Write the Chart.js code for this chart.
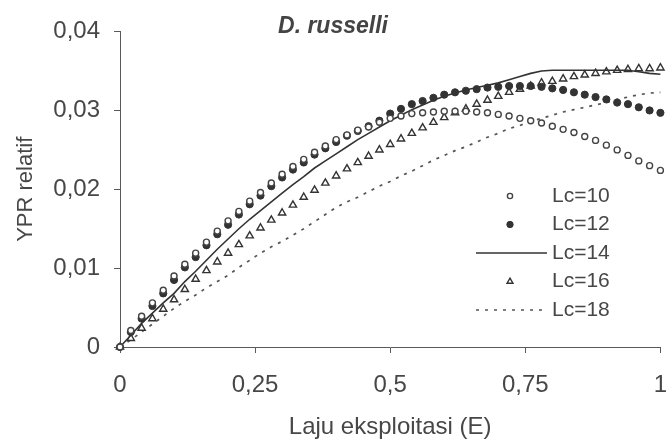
<!DOCTYPE html>
<html>
<head>
<meta charset="utf-8">
<script src="https://cdn.jsdelivr.net/npm/chart.js@4.4.1/dist/chart.umd.min.js"></script>
<style>
html,body{margin:0;padding:0;background:#ffffff;}
#wrap{width:666px;height:439px;position:relative;}
</style>
</head>
<body>
<div id="wrap"><canvas id="c" width="666" height="439"></canvas></div>
<script>
// ---- data ----
const E = [0, 0.02, 0.04, 0.06, 0.08, 0.10, 0.12, 0.14, 0.16, 0.18,
           0.20, 0.22, 0.24, 0.26, 0.28, 0.30, 0.32, 0.34, 0.36, 0.38,
           0.40, 0.42, 0.44, 0.46, 0.48, 0.50, 0.52, 0.54, 0.56, 0.58,
           0.60, 0.62, 0.64, 0.66, 0.68, 0.70, 0.72, 0.74, 0.76, 0.78,
           0.80, 0.82, 0.84, 0.86, 0.88, 0.90, 0.92, 0.94, 0.96, 0.98, 1.00];

const lc10 = [0, 0.0021, 0.0039, 0.0056, 0.0072, 0.0090, 0.0105, 0.0119, 0.0133, 0.0147,
              0.0160, 0.0172, 0.0185, 0.0196, 0.0208, 0.0219, 0.0229, 0.0238, 0.0247, 0.0255,
              0.0263, 0.0269, 0.0275, 0.0279, 0.0285, 0.0290, 0.0293, 0.0296, 0.0297, 0.0298,
              0.0299, 0.0299, 0.0299, 0.0298, 0.0297, 0.0295, 0.0293, 0.0290, 0.0287, 0.0284,
              0.0280, 0.0276, 0.0272, 0.0267, 0.0262, 0.0256, 0.0250, 0.0243, 0.0236, 0.0230, 0.0224];

const lc12 = [0, 0.0019, 0.0036, 0.0052, 0.0068, 0.0085, 0.0101, 0.0114, 0.0129, 0.0143,
              0.0155, 0.0168, 0.0181, 0.0192, 0.0204, 0.0215, 0.0225, 0.0234, 0.0244, 0.0252,
              0.0260, 0.0268, 0.0274, 0.0280, 0.0287, 0.0296, 0.0302, 0.0308, 0.0312, 0.0316,
              0.0320, 0.0323, 0.0325, 0.0327, 0.0329, 0.0330, 0.0331, 0.0331, 0.0331, 0.0330,
              0.0328, 0.0326, 0.0323, 0.0320, 0.0317, 0.0314, 0.0310, 0.0308, 0.0304, 0.0300, 0.0297];

const lc14 = [0, 0.0015, 0.0030, 0.0043, 0.0056, 0.0068, 0.0083, 0.0096, 0.0110, 0.0124,
              0.0137, 0.0150, 0.0162, 0.0173, 0.0184, 0.0195, 0.0206, 0.0216, 0.0227, 0.0236,
              0.0245, 0.0254, 0.0263, 0.0271, 0.0279, 0.0287, 0.0294, 0.0301, 0.0307, 0.0313,
              0.0318, 0.0322, 0.0326, 0.0329, 0.0332, 0.0335, 0.0339, 0.0343, 0.0347, 0.0350,
              0.0351, 0.0351, 0.0351, 0.0351, 0.0351, 0.0351, 0.0351, 0.0351, 0.0349, 0.0347, 0.0346];

const lc16 = [0, 0.0011, 0.0024, 0.0036, 0.0048, 0.0060, 0.0073, 0.0086, 0.0097, 0.0108,
              0.0119, 0.0130, 0.0141, 0.0151, 0.0161, 0.0170, 0.0180, 0.0190, 0.0199, 0.0208,
              0.0217, 0.0226, 0.0234, 0.0242, 0.0250, 0.0257, 0.0264, 0.0271, 0.0278, 0.0285,
              0.0291, 0.0297, 0.0302, 0.0308, 0.0313, 0.0318, 0.0323, 0.0327, 0.0331, 0.0335,
              0.0337, 0.0340, 0.0343, 0.0345, 0.0347, 0.0349, 0.0351, 0.0352, 0.0353, 0.0353, 0.0354];

const lc18 = [0, 0.0009, 0.0019, 0.0029, 0.0039, 0.0049, 0.0058, 0.0066, 0.0075, 0.0083,
              0.0091, 0.0101, 0.0110, 0.0119, 0.0127, 0.0134, 0.0142, 0.0150, 0.0159, 0.0168,
              0.0177, 0.0184, 0.0190, 0.0197, 0.0204, 0.0210, 0.0217, 0.0223, 0.0230, 0.0237,
              0.0243, 0.0249, 0.0254, 0.0260, 0.0266, 0.0271, 0.0277, 0.0281, 0.0286, 0.0290,
              0.0294, 0.0298, 0.0301, 0.0304, 0.0307, 0.0310, 0.0314, 0.0317, 0.0320, 0.0322, 0.0323];

const seriesNames = ['Lc=10', 'Lc=12', 'Lc=14', 'Lc=16', 'Lc=18'];
const xTickLabels = ['0', '0,25', '0,5', '0,75', '1'];
const yTickLabels = ['0', '0,01', '0,02', '0,03', '0,04'];
const chartTitle = 'D. russelli';
const xAxisTitle = 'Laju eksploitasi (E)';
const yAxisTitle = 'YPR relatif';

// ---- build ----
const FONT = "'Liberation Sans', Arial, sans-serif";
const TXT = '#474747';
const AX = '#5a5a5a';
const pts = (arr) => arr.map((v, i) => ({x: E[i], y: v}));

const styles = [
  {kind: 'point', pointStyle: 'circle', r: 3, lr: 2.6, bw: 1.4, border: '#444', fill: '#ffffff'},
  {kind: 'point', pointStyle: 'circle', r: 3.6, lr: 3.2, bw: 1, border: '#333', fill: '#333'},
  {kind: 'line', color: '#333', width: 1.6, dash: []},
  {kind: 'point', pointStyle: 'triangle', r: 4.2, lr: 3.4, bw: 1.4, border: '#333', fill: '#ffffff'},
  {kind: 'line', color: '#555', width: 1.7, dash: [3, 6]}
];
const seriesData = [lc10, lc12, lc14, lc16, lc18];

const datasets = seriesData.map((arr, i) => {
  const s = styles[i];
  if (s.kind === 'point') {
    return {label: seriesNames[i], data: pts(arr), showLine: false,
      pointStyle: s.pointStyle, pointRadius: s.r, pointBorderWidth: s.bw,
      pointBorderColor: s.border, pointBackgroundColor: s.fill};
  }
  return {label: seriesNames[i], data: pts(arr), showLine: true,
    borderColor: s.color, borderWidth: s.width, borderDash: s.dash,
    pointRadius: 0, fill: false, tension: 0};
});

const legendPlugin = {
  id: 'inlineLegend',
  afterDraw(chart) {
    const ctx = chart.ctx;
    const area = chart.chartArea;
    const rowY0 = area.bottom - 151;
    const gap = 28.5;
    const markerX = area.left + 390;
    const lineX0 = area.left + 356, lineX1 = area.left + 427;
    const textX = area.left + 432;
    ctx.save();
    seriesNames.forEach((name, i) => {
      const y = rowY0 + i * gap;
      const s = styles[i];
      if (s.kind === 'point') {
        ctx.strokeStyle = s.border;
        ctx.fillStyle = s.fill;
        ctx.lineWidth = s.bw;
        Chart.helpers.drawPoint(ctx, {pointStyle: s.pointStyle, radius: s.lr, rotation: 0, borderWidth: s.bw}, markerX, y);
      } else {
        ctx.beginPath();
        ctx.strokeStyle = s.color;
        ctx.lineWidth = s.width;
        ctx.setLineDash(s.dash);
        ctx.moveTo(lineX0, y);
        ctx.lineTo(lineX1, y);
        ctx.stroke();
        ctx.setLineDash([]);
      }
      ctx.fillStyle = TXT;
      ctx.font = "21px " + FONT;
      ctx.textAlign = 'left';
      ctx.textBaseline = 'middle';
      ctx.fillText(name, textX, y);
    });
    ctx.restore();
  }
};

new Chart(document.getElementById('c'), {
  type: 'scatter',
  data: {datasets},
  plugins: [legendPlugin],
  options: {
    responsive: false,
    devicePixelRatio: 1,
    animation: false,
    events: [],
    clip: false,
    layout: {padding: {left: 0, right: 0, top: 0, bottom: 0}},
    plugins: {
      legend: {display: false},
      tooltip: {enabled: false},
      title: {
        display: true, text: chartTitle, color: '#444',
        font: {family: FONT, size: 23, weight: 'bold', style: 'italic'},
        padding: {top: 13, bottom: -9}
      }
    },
    scales: {
      x: {
        type: 'linear', min: 0, max: 1,
        afterFit(scale) { scale.height = 92; scale.paddingRight = 5; scale.paddingLeft = 0; },
        ticks: {
          stepSize: 0.25, color: TXT, padding: 18,
          font: {family: FONT, size: 24},
          callback: (v) => { const i = Math.round(v * 4); return (Math.abs(v * 4 - i) < 1e-6) ? xTickLabels[i] : ''; },
          maxRotation: 0, autoSkip: false
        },
        grid: {display: true, drawOnChartArea: false, drawTicks: true, tickLength: 6, color: AX, lineWidth: 1},
        border: {display: true, color: AX, width: 1},
        title: {display: true, text: xAxisTitle, color: TXT, font: {family: FONT, size: 24}, padding: {top: 0, bottom: -3}}
      },
      y: {
        type: 'linear', min: 0, max: 0.04,
        afterFit(scale) { scale.width = 120; },
        ticks: {
          stepSize: 0.01, color: TXT, padding: 14,
          font: {family: FONT, size: 24},
          callback: (v) => { const i = Math.round(v * 100); return (Math.abs(v * 100 - i) < 1e-6) ? yTickLabels[i] : ''; }
        },
        grid: {display: true, drawOnChartArea: false, drawTicks: true, tickLength: 6, color: AX, lineWidth: 1},
        border: {display: true, color: AX, width: 1},
        title: {display: true, text: yAxisTitle, color: TXT, font: {family: FONT, size: 22}, padding: {top: 13, bottom: 0}}
      }
    }
  }
});
</script>
</body>
</html>
